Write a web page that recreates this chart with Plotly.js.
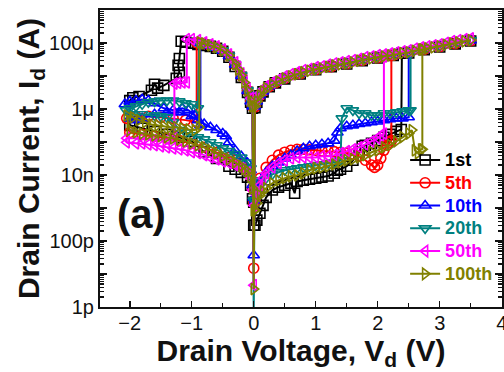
<!DOCTYPE html>
<html>
<head>
<meta charset="utf-8">
<script src="https://cdn.plot.ly/plotly-3.0.1.min.js"></script>
<style>html,body{margin:0;padding:0;background:#fff;overflow:hidden}</style>
</head>
<body>
<div id="chart" style="width:504px;height:372px"></div>
<script>
// ---- Data (V in volts, I in amps) ----
const seriesNames = ["1st", "5th", "10th", "20th", "50th", "100th"];

// positive LRS sweep grids (3.5 V back to 0)
const vLrsFine = [3.5,3.4,3.3,3.2,3.1,3.0,2.9,2.8,2.7,2.6,2.5,2.4,2.3,2.2,2.1,2.0,1.9,1.8,1.7,1.6,1.5,1.4,1.3,1.2,1.1,1.0,0.9,0.8,0.7,0.6,0.5,0.4,0.3,0.2,0.15,0.1,0.05,0.02];
const vLrsCoarse = [3.5,3.25,3.0,2.75,2.5,2.25,2.0,1.75,1.5,1.25,1.0,0.75,0.5,0.35,0.25,0.15,0.1,0.05,0.02];

// ---- 1st ----
const hrsV_1st = [0.02,0.05,0.1,0.15,0.2,0.3,0.4,0.5,0.6,0.66,0.7,0.8,0.9,1.0,1.1,1.2,1.3,1.35,1.4,1.5,1.6,1.7,1.75,1.8,1.9,2.0,2.1,2.2,2.3,2.38];
const hrsI_1st = [3.0e-10,4.3e-10,6.9e-10,1.2e-9,2.1e-9,3.5e-9,4.3e-9,4.9e-9,5.6e-9,2.8e-9,6.4e-9,6.9e-9,7.4e-9,8.0e-9,8.6e-9,9.3e-9,1.13e-8,1.4e-8,1.5e-8,1.85e-8,2.8e-8,4.9e-8,7.4e-8,8.0e-8,9.1e-8,1.1e-7,1.4e-7,1.7e-7,2.1e-7,2.4e-7];
const set_1st = [2.39, 4.9e-5];
const lrsI_1st = [1.15e-4,9.4e-5,7.6e-5,6.3e-5,5.0e-5,4.2e-5,3.5e-5,2.9e-5,2.3e-5,1.9e-5,1.55e-5,1.15e-5,8.2e-6,6.2e-6,4.7e-6,3.3e-6,2.5e-6,1.6e-6,1.1e-6];
const zero_1st = [3.0e-10, 1.5e-9];
const negV_1st = [-0.02,-0.05,-0.1,-0.2,-0.3,-0.4,-0.5,-0.6,-0.7,-0.8,-0.9,-1.0,-1.1,-1.17,-1.2,-1.22,-1.2,-1.25,-1.45,-1.55,-1.6,-1.65,-1.85,-1.95,-2.0,-2.0,-1.8,-1.6,-1.4,-1.2,-1.0,-0.8,-0.6,-0.4,-0.3,-0.2,-0.1,-0.05,-0.02];
const negI_1st = [1.05e-6,1.6e-6,3.2e-6,9.1e-6,1.95e-5,3.7e-5,5.6e-5,6.9e-5,7.9e-5,8.5e-5,9.1e-5,9.8e-5,1.05e-4,1.13e-4,3.4e-5,2.1e-5,1.3e-5,8.5e-6,5.2e-6,4.3e-6,5.6e-6,3.7e-6,2.4e-6,2.2e-6,1.8e-6,3.2e-7,2.6e-7,2.1e-7,1.7e-7,1.4e-7,1.05e-7,5.0e-8,3.2e-8,1.85e-8,1.5e-8,1.2e-8,8.6e-9,4.9e-9,1.9e-9];

// ---- 5th ----
const hrsV_5th = [0.02,0.05,0.1,0.2,0.3,0.4,0.5,0.6,0.7,0.8,0.9,1.0,1.1,1.2,1.3,1.4,1.5,1.6,1.7,1.8,1.9,1.95,2.0,2.05,2.1,2.15,2.2,2.22];
const hrsI_5th = [1.7e-9,3.5e-9,8.0e-9,1.7e-8,2.8e-8,4.0e-8,4.9e-8,5.6e-8,6.0e-8,6.0e-8,5.8e-8,5.6e-8,5.4e-8,5.3e-8,5.1e-8,4.9e-8,4.6e-8,4.3e-8,3.7e-8,2.8e-8,2.0e-8,1.7e-8,2.0e-8,3.2e-8,5.6e-8,8.0e-8,9.8e-8,1.1e-7];
const set_5th = [2.22, 4.2e-5];
const lrsI_5th = [1.18e-4,9.6e-5,7.8e-5,6.4e-5,5.1e-5,4.3e-5,3.6e-5,2.95e-5,2.35e-5,1.92e-5,1.57e-5,1.18e-5,8.4e-6,6.3e-6,4.8e-6,3.4e-6,2.6e-6,1.7e-6,1.15e-6];
const zero_5th = [1.5e-11, 1.5e-9];
const negV_5th = [-0.02,-0.05,-0.1,-0.2,-0.3,-0.4,-0.5,-0.6,-0.7,-0.8,-0.92,-0.92,-1.1,-1.3,-1.5,-1.7,-1.9,-2.05,-2.0,-1.8,-1.6,-1.4,-1.2,-1.0,-0.8,-0.6,-0.4,-0.3,-0.2,-0.1,-0.05,-0.02];
const negI_5th = [1.2e-6,1.8e-6,3.6e-6,1.0e-5,2.2e-5,4.1e-5,5.9e-5,7.3e-5,8.4e-5,9.6e-5,1.02e-4,4.0e-7,4.6e-7,5.2e-7,5.6e-7,6.0e-7,6.0e-7,5.2e-7,1.95e-7,1.7e-7,1.5e-7,1.3e-7,1.1e-7,9.1e-8,6.9e-8,4.9e-8,3.4e-8,2.8e-8,2.1e-8,1.4e-8,9.3e-9,4.0e-9];

// ---- 10th ----
const hrsV_10th = [0.02,0.05,0.1,0.2,0.3,0.4,0.5,0.6,0.7,0.8,0.9,1.0,1.1,1.2,1.3,1.35,1.4,1.5,1.6,1.7,1.8,1.9,2.0,2.1,2.2,2.3,2.4,2.5];
const hrsI_10th = [1.7e-9,3.5e-9,6.0e-9,1.2e-8,1.85e-8,2.4e-8,3.2e-8,4.0e-8,5.3e-8,6.4e-8,7.4e-8,8.0e-8,8.5e-8,9.1e-8,1.1e-7,1.95e-7,2.6e-7,3.0e-7,3.2e-7,3.5e-7,3.7e-7,4.0e-7,4.2e-7,4.6e-7,4.9e-7,5.2e-7,5.2e-7,5.6e-7];
const set_10th = [2.5, 5.2e-5];
const lrsI_10th = [1.2e-4,9.7e-5,7.9e-5,6.5e-5,5.2e-5,4.4e-5,3.7e-5,3.0e-5,2.4e-5,1.95e-5,1.6e-5,1.2e-5,8.5e-6,6.4e-6,4.9e-6,3.4e-6,2.6e-6,1.7e-6,1.2e-6];
const zero_10th = [3.7e-11, 2.0e-9];
const negV_10th = [-0.02,-0.05,-0.1,-0.2,-0.3,-0.4,-0.5,-0.6,-0.7,-0.8,-0.86,-0.86,-0.95,-1.05,-1.15,-1.3,-1.45,-1.6,-1.7,-1.8,-1.9,-2.0,-2.08,-2.0,-1.9,-1.8,-1.6,-1.4,-1.2,-1.0,-0.9,-0.8,-0.7,-0.6,-0.5,-0.45,-0.4,-0.3,-0.2,-0.1,-0.05,-0.02];
const negI_10th = [1.2e-6,1.7e-6,3.5e-6,1.0e-5,2.2e-5,4.0e-5,5.8e-5,7.2e-5,8.3e-5,9.5e-5,9.8e-5,3.2e-7,6.4e-7,9.1e-7,1.05e-6,9.1e-7,1.05e-6,1.5e-6,1.8e-6,1.95e-6,1.8e-6,1.7e-6,1.4e-6,5.2e-7,4.6e-7,5.2e-7,6.9e-7,7.9e-7,7.9e-7,6.0e-7,4.6e-7,3.5e-7,2.8e-7,2.3e-7,1.8e-7,1.5e-7,9.8e-8,5.6e-8,3.7e-8,2.3e-8,1.4e-8,4.9e-9];

// ---- 20th ----
const hrsV_20th = [0.02,0.05,0.1,0.2,0.3,0.4,0.5,0.6,0.7,0.8,0.9,1.0,1.1,1.2,1.3,1.4,1.42,1.5,1.6,1.7,1.8,1.9,2.0,2.1,2.2,2.3,2.4,2.5,2.53];
const hrsI_20th = [1.7e-9,2.8e-9,4.9e-9,8.0e-9,1.05e-8,1.2e-8,1.4e-8,1.5e-8,1.6e-8,1.7e-8,1.85e-8,2.0e-8,2.1e-8,2.3e-8,2.4e-8,2.8e-8,5.2e-7,1.05e-6,9.1e-7,7.4e-7,7.4e-7,6.4e-7,6.4e-7,7.4e-7,7.4e-7,7.9e-7,8.5e-7,9.1e-7,9.1e-7];
const set_20th = [2.53, 5.2e-5];
const lrsI_20th = [1.23e-4,1.0e-4,8.1e-5,6.7e-5,5.3e-5,4.5e-5,3.8e-5,3.1e-5,2.45e-5,2.0e-5,1.62e-5,1.22e-5,8.6e-6,6.5e-6,5.0e-6,3.5e-6,2.7e-6,1.8e-6,1.25e-6];
const zero_20th = [5.0e-13, 1.7e-9];
const negV_20th = [-0.02,-0.05,-0.1,-0.2,-0.3,-0.4,-0.5,-0.6,-0.7,-0.8,-0.88,-0.9,-1.0,-1.1,-1.2,-1.3,-1.4,-1.5,-1.6,-1.7,-1.8,-1.9,-2.0,-2.06,-2.0,-1.8,-1.6,-1.5,-1.4,-1.3,-1.2,-1.1,-1.0,-0.9,-0.8,-0.7,-0.6,-0.5,-0.4,-0.3,-0.2,-0.1,-0.05,-0.02];
const negI_20th = [1.2e-6,1.8e-6,3.7e-6,1.05e-5,2.25e-5,4.2e-5,6.0e-5,7.4e-5,8.5e-5,9.8e-5,9.8e-5,1.05e-6,1.4e-6,1.5e-6,1.7e-6,1.8e-6,1.8e-6,1.8e-6,1.7e-6,1.6e-6,1.4e-6,1.2e-6,1.05e-6,9.1e-7,6.9e-7,6.9e-7,6.4e-7,6.0e-7,5.6e-7,4.0e-7,2.3e-7,1.95e-7,1.6e-7,1.4e-7,1.2e-7,9.8e-8,8.0e-8,6.4e-8,5.3e-8,4.3e-8,3.4e-8,2.4e-8,1.6e-8,6.9e-9];

// ---- 50th ----
const hrsV_50th = [0.02,0.05,0.1,0.15,0.2,0.3,0.4,0.5,0.6,0.7,0.8,0.9,1.0,1.1,1.2,1.3,1.4,1.5,1.6,1.7,1.8,1.9,2.0,2.05,2.1];
const hrsI_50th = [1.2e-9,2.4e-9,4.9e-9,8.0e-9,1.13e-8,1.7e-8,2.3e-8,2.8e-8,3.2e-8,3.4e-8,3.4e-8,3.4e-8,3.4e-8,3.7e-8,3.7e-8,4.0e-8,4.6e-8,5.3e-8,6.0e-8,6.9e-8,8.5e-8,1.05e-7,1.3e-7,1.6e-7,1.8e-7];
const set_50th = [2.1, 3.9e-5];
const lrsI_50th = [1.39e-4,1.3e-4,1.21e-4,1.13e-4,1.01e-4,9.1e-5,8.5e-5,7.9e-5,7.4e-5,6.7e-5,6.0e-5,5.6e-5,5.2e-5,4.8e-5,4.5e-5,4.3e-5,3.9e-5,3.7e-5,3.3e-5,3.0e-5,2.8e-5,2.6e-5,2.4e-5,2.2e-5,1.95e-5,1.84e-5,1.64e-5,1.5e-5,1.3e-5,1.13e-5,9.8e-6,7.9e-6,6.4e-6,4.9e-6,3.9e-6,3.0e-6,2.0e-6,1.4e-6];
const zero_50th = [4.6e-12, 1.2e-9];
const negV_50th = [-0.02,-0.05,-0.1,-0.15,-0.2,-0.25,-0.3,-0.4,-0.5,-0.6,-0.7,-0.8,-0.9,-1.0,-1.08,-1.08,-1.15,-1.22,-1.28,-1.28,-1.4,-1.6,-1.8,-2.05,-2.05,-1.9,-1.8,-1.7,-1.6,-1.5,-1.4,-1.3,-1.2,-1.1,-1.0,-0.9,-0.8,-0.7,-0.6,-0.5,-0.4,-0.3,-0.2,-0.1,-0.05,-0.02];
const negI_50th = [1.4e-6,2.1e-6,4.3e-6,7.4e-6,1.2e-5,1.84e-5,2.6e-5,4.5e-5,6.4e-5,7.9e-5,9.1e-5,1.05e-4,1.21e-4,1.3e-4,1.3e-4,6.4e-6,6.4e-6,6.2e-6,5.9e-6,1.3e-7,1.2e-7,1.2e-7,1.3e-7,1.3e-7,9.8e-8,9.1e-8,9.1e-8,8.5e-8,8.0e-8,7.4e-8,6.9e-8,6.4e-8,6.0e-8,5.6e-8,4.9e-8,4.6e-8,4.0e-8,3.4e-8,3.0e-8,2.6e-8,2.3e-8,2.0e-8,1.6e-8,1.2e-8,8.0e-9,3.5e-9];

// ---- 100th ----
const hrsV_100th = [0.02,0.05,0.1,0.15,0.2,0.3,0.4,0.5,0.6,0.7,0.8,0.9,1.0,1.1,1.2,1.3,1.4,1.5,1.6,1.7,1.8,1.9,2.0,2.1,2.2,2.3,2.4,2.5,2.55,2.6,2.65,2.7,2.72];
const hrsI_100th = [8.5e-10,1.4e-9,2.4e-9,3.2e-9,4.0e-9,5.6e-9,6.9e-9,8.0e-9,9.1e-9,9.8e-9,1.13e-8,1.4e-8,1.6e-8,1.7e-8,1.85e-8,2.1e-8,2.4e-8,2.8e-8,3.0e-8,3.4e-8,4.0e-8,4.9e-8,5.6e-8,6.9e-8,8.0e-8,1.05e-7,1.4e-7,1.8e-7,2.3e-7,5.6e-8,4.6e-8,6.0e-8,6.0e-8];
const set_100th = [2.72, 6.4e-5];
const lrsI_100th = [1.21e-4,1.13e-4,1.05e-4,9.8e-5,8.8e-5,7.9e-5,7.4e-5,6.9e-5,6.4e-5,5.8e-5,5.2e-5,4.9e-5,4.5e-5,4.2e-5,3.9e-5,3.7e-5,3.4e-5,3.2e-5,2.9e-5,2.6e-5,2.4e-5,2.27e-5,2.1e-5,1.9e-5,1.7e-5,1.6e-5,1.43e-5,1.3e-5,1.13e-5,9.8e-6,8.5e-6,6.9e-6,5.6e-6,4.3e-6,3.4e-6,2.6e-6,1.7e-6,1.2e-6];
const zero_100th = [3.5e-12, 8.5e-10];
const negV_100th = [-0.02,-0.05,-0.1,-0.15,-0.2,-0.25,-0.3,-0.4,-0.5,-0.6,-0.7,-0.8,-0.87,-0.88,-0.95,-1.05,-1.15,-1.25,-1.35,-1.45,-1.55,-1.65,-1.75,-1.85,-1.95,-2.05,-2.0,-1.9,-1.8,-1.7,-1.6,-1.5,-1.4,-1.3,-1.2,-1.1,-1.0,-0.9,-0.8,-0.7,-0.6,-0.5,-0.4,-0.3,-0.2,-0.15,-0.1,-0.05,-0.02];
const negI_100th = [1.2e-6,1.8e-6,3.7e-6,6.4e-6,1.05e-5,1.6e-5,2.3e-5,4.2e-5,6.0e-5,7.4e-5,8.5e-5,9.8e-5,1.05e-4,2.8e-7,2.3e-7,2.4e-7,2.6e-7,2.8e-7,2.8e-7,3.0e-7,3.2e-7,3.4e-7,4.0e-7,4.6e-7,5.6e-7,6.4e-7,2.3e-7,1.95e-7,1.8e-7,1.7e-7,1.6e-7,1.5e-7,1.4e-7,1.3e-7,1.2e-7,1.05e-7,9.1e-8,8.0e-8,6.9e-8,5.6e-8,4.6e-8,3.7e-8,3.0e-8,2.4e-8,1.85e-8,1.5e-8,1.3e-8,8.6e-9,4.0e-9];

// ---- tick labels ----
const xTickVals = [-2,-1,0,1,2,3,4];
const yTickVals = [1e-12,1e-11,1e-10,1e-9,1e-8,1e-7,1e-6,1e-5,1e-4,1e-3];
const yTickText = ["1p","","100p","","10n","","1μ","","100μ",""];

// ---- styles ----
const colors = ["#000000","#ff0000","#0000ff","#008080","#ff00ff","#808000"];
const symbols = ["square-open","circle-open","triangle-up-open","triangle-down-open","triangle-left-open","triangle-right-open"];

const S = [
  {h:[hrsV_1st,hrsI_1st], set:set_1st, lv:vLrsCoarse, li:lrsI_1st, z:zero_1st, n:[negV_1st,negI_1st]},
  {h:[hrsV_5th,hrsI_5th], set:set_5th, lv:vLrsCoarse, li:lrsI_5th, z:zero_5th, n:[negV_5th,negI_5th]},
  {h:[hrsV_10th,hrsI_10th], set:set_10th, lv:vLrsCoarse, li:lrsI_10th, z:zero_10th, n:[negV_10th,negI_10th]},
  {h:[hrsV_20th,hrsI_20th], set:set_20th, lv:vLrsCoarse, li:lrsI_20th, z:zero_20th, n:[negV_20th,negI_20th]},
  {h:[hrsV_50th,hrsI_50th], set:set_50th, lv:vLrsFine, li:lrsI_50th, z:zero_50th, n:[negV_50th,negI_50th]},
  {h:[hrsV_100th,hrsI_100th], set:set_100th, lv:vLrsFine, li:lrsI_100th, z:zero_100th, n:[negV_100th,negI_100th]}
];

const traces = S.map((s, k) => {
  const x = [].concat(s.h[0], [s.set[0]], s.lv, [0], s.n[0], [0]);
  const y = [].concat(s.h[1], [s.set[1]], s.li, [s.z[0]], s.n[1], [s.z[1]]);
  return {
    x: x, y: y, type: "scatter", mode: "lines+markers",
    name: '<span style="color:' + colors[k] + ';font-size:18px">' + seriesNames[k] + '</span>',
    line: {color: colors[k], width: 2},
    marker: {symbol: symbols[k], size: 10, color: colors[k], line: {width: 1.6, color: colors[k]}},
    cliponaxis: true
  };
});

const minorY = [];
for (let e = -12; e < -3; e++) for (let m = 2; m <= 9; m++) minorY.push(m * Math.pow(10, e));

const FONT = 'Arial, "Liberation Sans", sans-serif';
const layout = {
  width: 504, height: 372,
  margin: {l: 100, r: 2, t: 10, b: 65},
  paper_bgcolor: "#fff", plot_bgcolor: "#fff",
  font: {family: FONT, color: "#111"},
  showlegend: true,
  legend: {x: 0.759, y: 0.055, xanchor: "left", yanchor: "bottom", bgcolor: "rgba(0,0,0,0)",
           font: {family: FONT, size: 15.2, weight: "bold"}, itemwidth: 30, tracegroupgap: 0},
  xaxis: {
    range: [-2.48, 4.005], tickmode: "array", tickvals: xTickVals, ticks: "inside", ticklen: 6, tickwidth: 1.5, tickcolor: "#111",
    showline: true, linewidth: 2, linecolor: "#111", mirror: true, showgrid: false, zeroline: false,
    tickfont: {size: 20, family: FONT, color: "#111"}, ticklabelstandoff: -3, ticklabeloverflow: "allow",
    minor: {dtick: 0.5, tick0: 0, ticks: "inside", ticklen: 4, tickwidth: 1.2, tickcolor: "#111", showgrid: false},
    title: {text: "Drain Voltage, V<sub>d</sub> (V)", font: {size: 30, weight: "bold", family: FONT, color: "#111"}, standoff: 5},
    automargin: false
  },
  yaxis: {
    type: "log", range: [-12, -3], tickmode: "array", tickvals: yTickVals, ticktext: yTickText,
    ticks: "inside", ticklen: 7, tickwidth: 1.5, tickcolor: "#111",
    showline: true, linewidth: 2, linecolor: "#111", mirror: "ticks", showgrid: false, zeroline: false,
    tickfont: {size: 20, family: FONT, color: "#111"},
    minor: {tickmode: "array", tickvals: minorY, ticks: "inside", ticklen: 4, tickwidth: 1.2, tickcolor: "#111", showgrid: false},
    title: {text: "Drain Current, I<sub>d</sub> (A)", font: {size: 30, weight: "bold", family: FONT, color: "#111"}, standoff: 1},
    automargin: false
  },
  annotations: [{
    text: "(a)", xref: "paper", yref: "paper", x: 0.102, y: 0.313, xanchor: "center", yanchor: "middle",
    showarrow: false, font: {size: 40, weight: "bold", family: FONT, color: "#111"}
  }]
};

Plotly.newPlot("chart", traces, layout, {staticPlot: true, displayModeBar: false});
</script>
</body>
</html>
